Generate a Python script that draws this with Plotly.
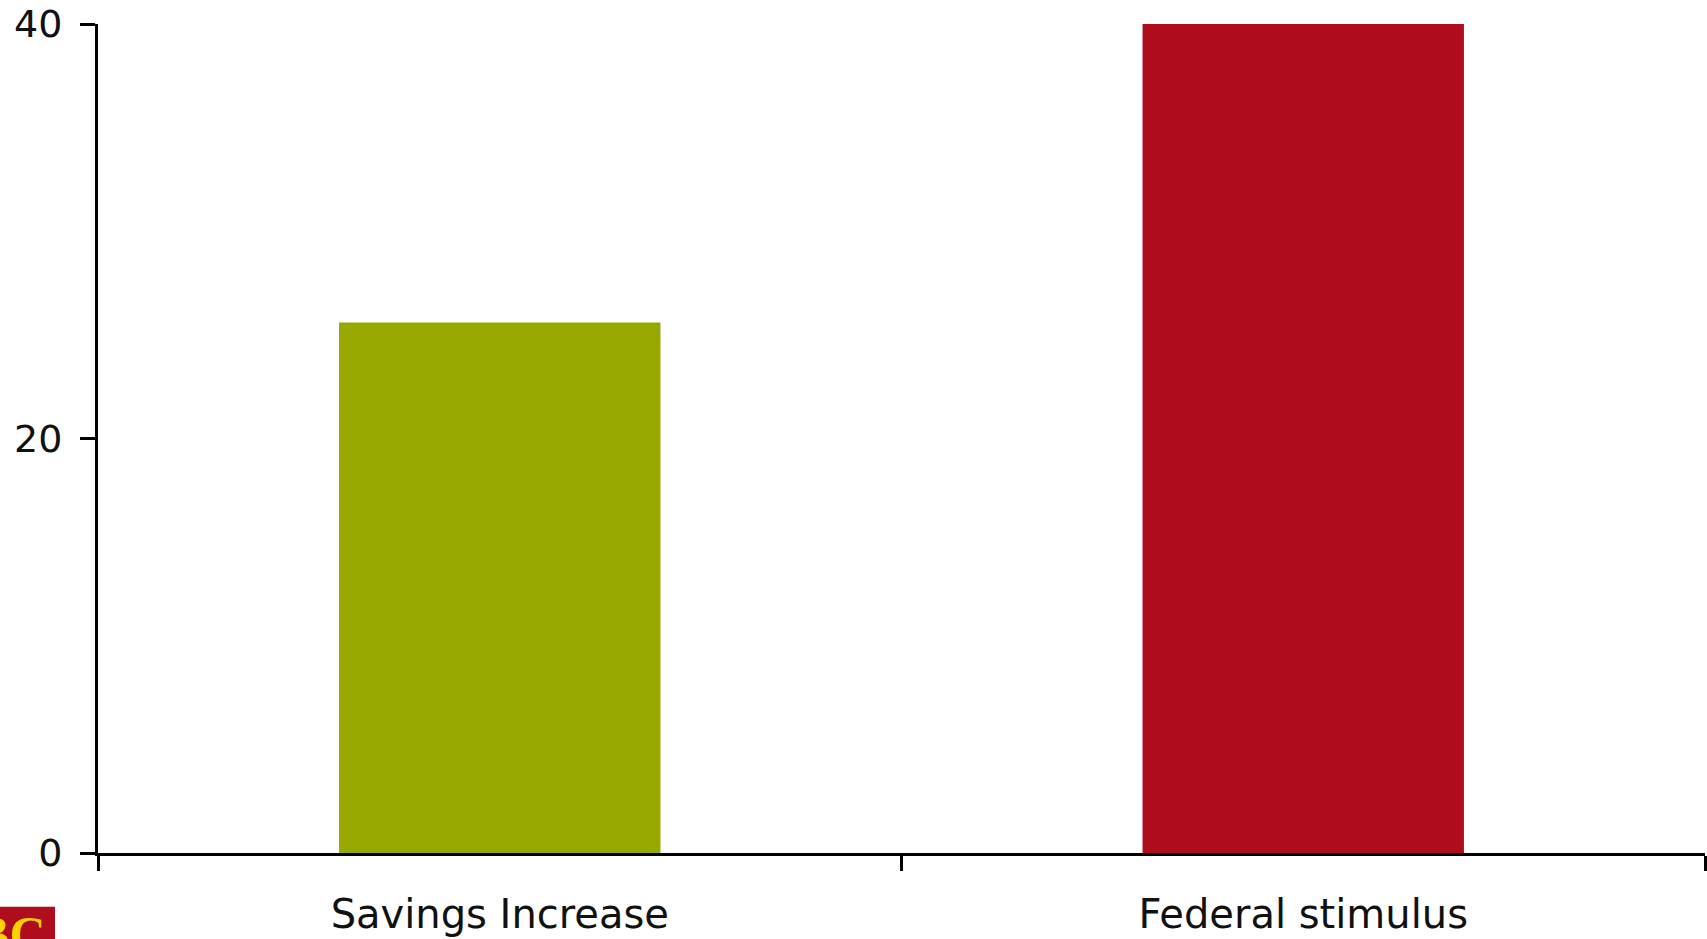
import plotly.graph_objects as go

categories = ["Savings Increase", "Federal stimulus"]
values = [25.6, 40]
bar_colors = ["#97A800", "#AF0D1D"]
y_ticks = [0, 20, 40]
y_ticklabels = ["0", "20", "40"]

W, H = 1707, 939
ML, MR, MT, MB = 98, 2, 23, 84
PW, PH = W - ML - MR, H - MT - MB

def px_x(p):
    return (p - ML) / PW

def px_y(p):
    return 1 - (p - MT) / PH

fig = go.Figure(
    go.Bar(
        x=categories,
        y=values,
        marker=dict(color=bar_colors, line=dict(width=0)),
        width=0.4,
    )
)

fig.update_layout(
    width=W,
    height=H,
    margin=dict(l=ML, r=MR, t=MT, b=MB, pad=0),
    plot_bgcolor="white",
    paper_bgcolor="white",
    showlegend=False,
    xaxis=dict(
        type="category",
        showline=True,
        linecolor="black",
        linewidth=3,
        ticks="outside",
        tickson="boundaries",
        ticklen=15,
        tickwidth=3,
        tickcolor="black",
        showgrid=False,
        zeroline=False,
        tickfont=dict(family="DejaVu Sans", size=40, color="#111111"),
        ticklabelstandoff=24,
    ),
    yaxis=dict(
        range=[0, 40],
        tickvals=y_ticks,
        ticktext=y_ticklabels,
        showline=True,
        linecolor="black",
        linewidth=3,
        ticks="outside",
        ticklen=15,
        tickwidth=3,
        tickcolor="black",
        showgrid=False,
        zeroline=False,
        tickfont=dict(family="DejaVu Sans", size=38, color="#111111"),
        ticklabelstandoff=10,
    ),
    shapes=[
        dict(
            type="rect", xref="paper", yref="paper",
            x0=px_x(-5), x1=px_x(55), y0=px_y(909), y1=px_y(945),
            fillcolor="#AF0D1D", line=dict(width=0), layer="above",
        )
    ],
    annotations=[
        dict(
            text="<b>RBC</b>", xref="paper", yref="paper",
            x=px_x(48), y=px_y(906), xanchor="right", yanchor="top",
            showarrow=False,
            font=dict(family="Liberation Serif", size=50, color="#FFD200"),
        )
    ],
)

fig.write_html("out.html")
